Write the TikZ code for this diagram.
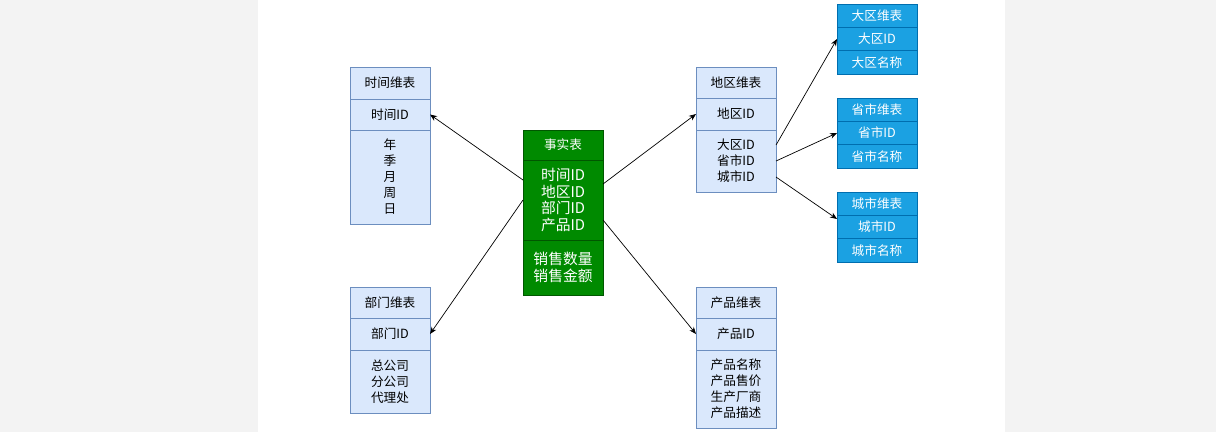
\documentclass[tikz,border=0pt]{standalone}
\usepackage{fontspec}
\setmainfont{Noto Sans CJK SC}
\usetikzlibrary{positioning, arrows.meta, calc}
\definecolor{pagegray}{HTML}{F3F3F3}
\definecolor{dimfill}{HTML}{DAE8FC}
\definecolor{dimline}{HTML}{6C8EBF}
\definecolor{factfill}{HTML}{008A00}
\definecolor{factline}{HTML}{005700}
\definecolor{subfill}{HTML}{1BA1E2}
\definecolor{subline}{HTML}{006EAF}
\tikzset{
    every node/.style={ % No gaps, so the rows of a table touch
        outer sep=0pt,
        inner sep=0pt
    },
    dimcell/.style={ % Light blue dimension table rows
        draw=dimline, fill=dimfill,
        line width=0.6pt,
        minimum width=2cm,
        align=center,
        font=\fontsize{9}{11.4}\selectfont
    },
    factcell/.style={ % Green fact table rows
        draw=factline, fill=factfill,
        line width=0.6pt,
        minimum width=2cm,
        align=center,
        text=white,
        font=\fontsize{10.5}{11.8}\selectfont
    },
    subcell/.style={ % Blue sub tables on the right
        draw=subline, fill=subfill,
        line width=0.6pt,
        minimum width=2cm,
        minimum height=0.583cm,
        text=white,
        font=\fontsize{9}{11}\selectfont
    },
    link/.style={ % Connectors between tables
        draw,
        -{Stealth[length=5pt,width=4pt]},
        line width=0.5pt
    }
}

\begin{document}
\begin{tikzpicture}[x=0.025cm, y=-0.025cm]
    % page
    \fill[pagegray] (0,0) rectangle (1216,432);
    \fill[white] (258,0) rectangle (1005,432);
    \useasboundingbox (0,0) rectangle (1216,432);

    % fact table
    \node[factcell, anchor=north west, minimum height=0.75cm, font=\fontsize{9}{11}\selectfont] (facthead) at (523,130) {事实表};
    \node[factcell, below=0pt of facthead, minimum height=2cm]     (factkeys)     {时间ID\\地区ID\\部门ID\\产品ID};
    \node[factcell, below=0pt of factkeys, minimum height=1.375cm] (factmeasures) {销售数量\\销售金额};

    % time
    \node[dimcell, anchor=north west, minimum height=0.8cm] (timehead) at (350,67) {时间维表};
    \node[dimcell, below=0pt of timehead, minimum height=0.775cm] (timeid)   {时间ID};
    \node[dimcell, below=0pt of timeid, minimum height=2.35cm]    (timeattr) {年\\季\\月\\周\\日};

    % department
    \node[dimcell, anchor=north west, minimum height=0.775cm] (depthead) at (350,287) {部门维表};
    \node[dimcell, below=0pt of depthead, minimum height=0.8cm]   (deptid)   {部门ID};
    \node[dimcell, below=0pt of deptid, minimum height=1.575cm]   (deptattr) {总公司\\分公司\\代理处};

    % region
    \node[dimcell, anchor=north west, minimum height=0.775cm] (regionhead) at (696,67) {地区维表};
    \node[dimcell, below=0pt of regionhead, minimum height=0.8cm] (regionid)   {地区ID};
    \node[dimcell, below=0pt of regionid, minimum height=1.55cm]  (regionattr) {大区ID\\省市ID\\城市ID};

    % product
    \node[dimcell, anchor=north west, minimum height=0.775cm] (prodhead) at (696,287) {产品维表};
    \node[dimcell, below=0pt of prodhead, minimum height=0.8cm]   (prodid)   {产品ID};
    \node[dimcell, below=0pt of prodid, minimum height=1.95cm]    (prodattr) {产品名称\\产品售价\\生产厂商\\产品描述};

    % big region / province / city
    \node[subcell, anchor=north west] (bighead) at (837,4) {大区维表};
    \node[subcell, below=0pt of bighead] (bigid)   {大区ID};
    \node[subcell, below=0pt of bigid]   (bigname) {大区名称};
    \node[subcell, anchor=north west] (provhead) at (837,98) {省市维表};
    \node[subcell, below=0pt of provhead] (provid)   {省市ID};
    \node[subcell, below=0pt of provid]   (provname) {省市名称};
    \node[subcell, anchor=north west] (cityhead) at (837,192) {城市维表};
    \node[subcell, below=0pt of cityhead] (cityid)   {城市ID};
    \node[subcell, below=0pt of cityid]   (cityname) {城市名称};

    % links
    \draw[link] ([yshift=0.5cm]factkeys.west) -- (timeid.east);
    \draw[link] (factkeys.west) -- (deptid.east);
    \draw[link] ([yshift=0.4cm]factkeys.east) -- (regionid.west);
    \draw[link] ([yshift=-0.5cm]factkeys.east) -- (prodid.west);
    \draw[link] ([yshift=0.4cm]regionattr.east) -- (bigid.west);
    \draw[link] (regionattr.east) -- (provid.west);
    \draw[link] ([yshift=-0.4cm]regionattr.east) -- ([yshift=0.2cm]cityid.west);
\end{tikzpicture}
\end{document}
